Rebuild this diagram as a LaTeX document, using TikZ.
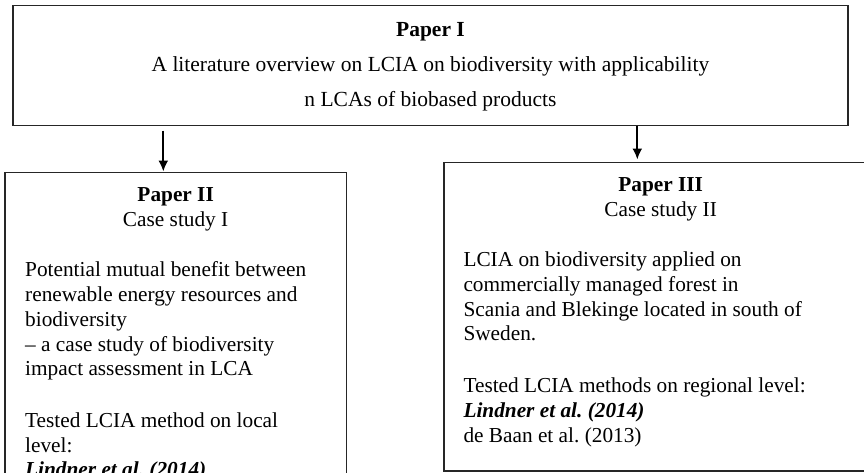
\documentclass[tikz,border=0pt]{standalone}
\usepackage{fontspec}
\setmainfont{Liberation Serif}
\frenchspacing
\usetikzlibrary{arrows.meta, positioning}

\begin{document}
\begin{tikzpicture}[x=1pt, y=-1pt]
      \tikzstyle{box} = [draw = black!85, line width = 1.3pt, anchor = north west, inner sep = 0pt]
      \tikzstyle{txt} = [inner sep = 0pt, font = \fontsize{21.3}{24.7}\selectfont]
      \tikzstyle{connect} = [-{Latex[length = 11pt, width = 10pt]}, line width = 2pt]
      \useasboundingbox (0,0) rectangle (864,472);
      \clip (0,0) rectangle (864,472);
      % boxes
      \node[box, minimum width = 835pt, minimum height = 119.5pt] (p1) at (12.3,5) {};
      \node[box, minimum width = 341.4pt, minimum height = 340pt] (p2) at (4.3,171.5) {};
      \node[box, minimum width = 433.4pt, minimum height = 308.6pt] (p3) at (443.3,161.7) {};
      % texts
      \node[txt, align = center, font = \fontsize{21.5}{35}\selectfont, below = 7.2pt of p1.north] (t1)
            {\strut\textbf{Paper I}\\ A literature overview on LCIA on biodiversity with applicability\\ n LCAs of biobased products};
      \node[txt, align = center, below = 12.9pt of p2.north] (h2) {\strut\textbf{Paper II}\\ Case study I};
      \node[txt, align = left, anchor = north west] (b2) at (25,259.4)
            {\strut Potential mutual benefit between\\ renewable energy resources and\\ biodiversity\\ -- a case study of biodiversity\\ impact assessment in LCA\\[27pt]
             Tested LCIA method on local\\ level:\\ \textbf{\textit{Lindner et al. (2014)}}};
      \node[txt, align = center, below = 12.7pt of p3.north] (h3) {\strut\textbf{Paper III}\\ Case study II};
      \node[txt, align = left, anchor = north west] (b3) at (463.3,249.4)
            {\strut LCIA on biodiversity applied on\\ commercially managed forest in\\ Scania and Blekinge located in south of\\ Sweden.\\[27pt]
             Tested LCIA methods on regional level:\\ \textbf{\textit{Lindner et al. (2014)}}\\ de Baan et al. (2013)};
      % arrows
      \coordinate (a2) at (163.3,171.5);
      \coordinate (a3) at (637.3,159.5);
      \draw[connect] ([yshift = -4.8pt]p1.south -| a2) -- (a2);
      \draw[connect] (p1.south -| a3) -- (a3);
\end{tikzpicture}
\end{document}
